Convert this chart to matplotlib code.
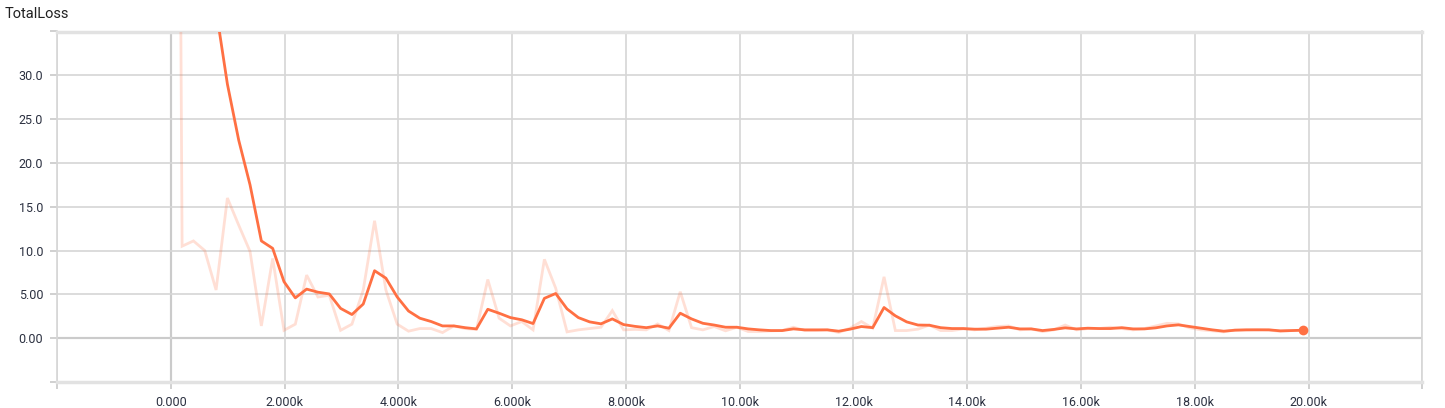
import numpy as np
import matplotlib
matplotlib.use("Agg")
import matplotlib.pyplot as plt

plt.rcParams['font.family'] = ['Roboto', 'DejaVu Sans']

# шаги обучения (точки примерно каждые 199 шагов)
steps = np.arange(101) * 199

# исходные значения (светлая линия), первая точка далеко за верхом графика
raw = [235.0, 10.5, 11.1, 10.0, 5.5, 16.0, 12.9, 9.9, 1.4, 9.1,
       0.9, 1.6, 7.2, 4.7, 4.9, 0.9, 1.6, 5.5, 13.4, 5.5,
       1.6, 0.8, 1.1, 1.1, 0.64, 1.4, 1.1, 1.0, 6.7, 2.28,
       1.4, 1.9, 0.95, 9.0, 5.7, 0.72, 0.95, 1.1, 1.25, 3.15,
       0.95, 1.0, 0.95, 1.63, 0.87, 5.3, 1.2, 0.95, 1.33, 0.84,
       1.25, 0.76, 0.76, 0.84, 0.87, 1.25, 0.87, 0.87, 0.95, 0.65,
       1.14, 1.9, 1.14, 7.0, 0.87, 0.87, 1.03, 1.5, 0.87, 0.87,
       1.06, 0.95, 1.14, 1.33, 1.4, 0.95, 1.06, 0.76, 0.95, 1.5,
       0.95, 1.1, 1.1, 1.25, 1.1, 0.95, 1.1, 1.4, 1.7, 1.63,
       1.18, 0.95, 0.84, 0.72, 0.95, 0.95, 1.0, 0.95, 0.76, 0.87,
       0.91]

# сглаженные значения (яркая линия)
smooth = [235.0, 145.0, 91.3, 58.8, 37.5, 29.0, 22.6, 17.5, 11.1, 10.25,
          6.45, 4.6, 5.6, 5.25, 5.05, 3.4, 2.7, 3.9, 7.7, 6.85,
          4.7, 3.1, 2.28, 1.9, 1.4, 1.4, 1.2, 1.06, 3.3, 2.85,
          2.35, 2.1, 1.67, 4.55, 5.1, 3.35, 2.35, 1.86, 1.64, 2.2,
          1.55, 1.35, 1.2, 1.4, 1.14, 2.85, 2.2, 1.7, 1.5, 1.25,
          1.25, 1.06, 0.95, 0.87, 0.87, 1.06, 0.95, 0.95, 0.95, 0.8,
          1.03, 1.33, 1.2, 3.5, 2.55, 1.86, 1.5, 1.48, 1.2, 1.1,
          1.1, 1.03, 1.03, 1.14, 1.25, 1.06, 1.06, 0.87, 1.0, 1.18,
          1.06, 1.14, 1.1, 1.1, 1.2, 1.06, 1.06, 1.18, 1.4, 1.52,
          1.33, 1.14, 0.95, 0.8, 0.91, 0.95, 0.95, 0.95, 0.84, 0.87,
          0.91]

x_ticks = np.arange(-2000, 22001, 2000)
x_labels = ['', '0.000', '2.000k', '4.000k', '6.000k', '8.000k', '10.00k',
            '12.00k', '14.00k', '16.00k', '18.00k', '20.00k', '']
y_ticks = [-5, 0, 5, 10, 15, 20, 25, 30, 35]
y_labels = ['', '0.00', '5.00', '10.0', '15.0', '20.0', '25.0', '30.0', '']

color = '#ff7043'
text_color = '#2b3040'

fig = plt.figure(figsize=(14.45, 4.08), dpi=100)
ax = fig.add_axes([57 / 1445, 26 / 408, 1365.4 / 1445, 350.5 / 408])

ax.plot(steps, raw, color=color, alpha=0.22, lw=2, solid_joinstyle='miter', zorder=3)
ax.plot(steps, smooth, color=color, lw=2, zorder=4)
ax.plot(steps[-1], smooth[-1], 'o', color=color, ms=7, mec='none', zorder=5)

ax.set_xlim(-2000, 22000)
ax.set_ylim(-5, 35)
ax.set_xticks(x_ticks)
ax.set_xticklabels(x_labels)
ax.set_yticks(y_ticks)
ax.set_yticklabels(y_labels)

ax.grid(True, color='#d6d6d6', lw=1.2, zorder=0)
ax.axhline(0, color='#9a9a9a', lw=1.5, zorder=1)
ax.axvline(0, color='#9a9a9a', lw=1.5, zorder=1)

for side in ['left', 'right']:
    ax.spines[side].set_color('#d6d6d6')
    ax.spines[side].set_linewidth(1.2)
for side in ['top', 'bottom']:
    ax.spines[side].set_color('#e2e2e2')
    ax.spines[side].set_linewidth(2.5)

ax.tick_params(axis='both', colors='#c8c8c8', length=5, width=1.2,
               labelcolor=text_color, labelsize=9)
ax.tick_params(axis='x', pad=5)
ax.tick_params(axis='y', pad=5)

fig.text(5 / 1445, 1 - 14 / 408, 'TotalLoss', fontsize=10.5, color='#212121',
         va='center', ha='left')

fig.savefig('out.png', dpi=100)
